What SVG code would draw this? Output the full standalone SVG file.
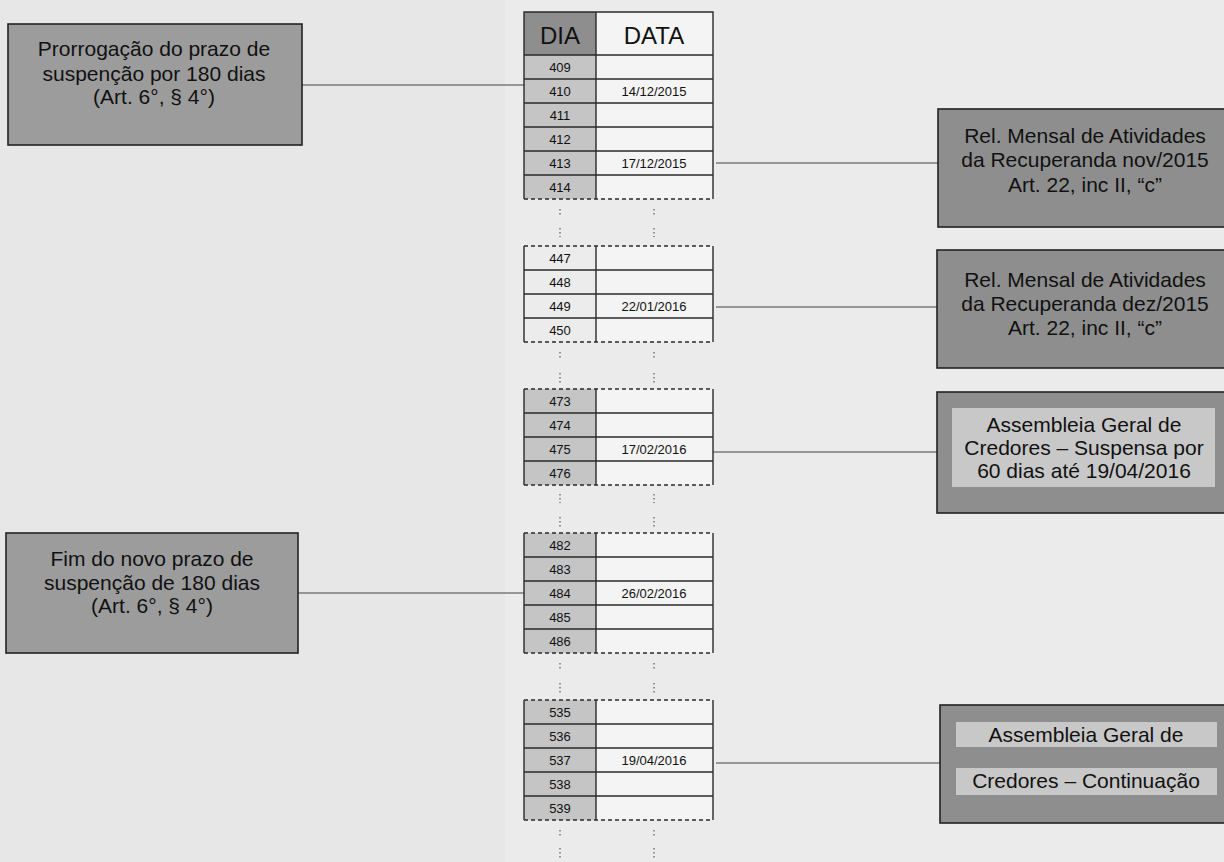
<svg xmlns="http://www.w3.org/2000/svg" width="1224" height="862" viewBox="0 0 1224 862">
<style>
.bg{fill:#ebebeb}
.box{stroke:#222;stroke-width:1.6}
.lbox{fill:#9c9c9c}
.rbox{fill:#8e8e8e}
.inner{fill:#c8c8c8;stroke:none}
.t{font-family:"Liberation Sans",Arial,sans-serif;fill:#111;text-anchor:middle}
.bt{font-size:21px}
.hd{font-size:24px}
.num{font-size:13px}
.dia{fill:#c5c5c5}
.diaw{fill:#ececec}
.dat{fill:#f4f4f4}
.hdd{fill:#8e8e8e}
.grid{stroke:#2a2a2a;stroke-width:1.4;fill:none}
.dash{stroke:#2a2a2a;stroke-width:1.4;stroke-dasharray:4 3;fill:none}
.dots{stroke:#777;stroke-width:1.5;stroke-dasharray:1.5 2.5;fill:none}
.conn{stroke:#7a7a7a;stroke-width:1.6;fill:none}
</style>
<rect class="bg" x="0" y="0" width="1224" height="862"/>
<rect x="0" y="0" width="505" height="862" fill="#e7e7e7"/>

<g id="connectors">
<line class="conn" x1="302" y1="85" x2="524" y2="85"/>
<line class="conn" x1="716" y1="163" x2="938" y2="163"/>
<line class="conn" x1="716" y1="307" x2="937" y2="307"/>
<line class="conn" x1="711" y1="452" x2="937" y2="452"/>
<line class="conn" x1="298" y1="593" x2="524" y2="593"/>
<line class="conn" x1="716" y1="763" x2="940" y2="763"/>
</g>

<g id="node-prorrogacao">
<rect class="box lbox" x="8" y="24" width="294" height="121"/>
<text class="t bt" x="154" y="56">Prorrogação do prazo de</text>
<text class="t bt" x="154" y="81">suspenção por 180 dias</text>
<text class="t bt" x="154" y="104">(Art. 6°, § 4°)</text>
</g>

<g id="node-fim-prazo">
<rect class="box lbox" x="6" y="533" width="292" height="120"/>
<text class="t bt" x="152" y="566">Fim do novo prazo de</text>
<text class="t bt" x="152" y="590">suspenção de 180 dias</text>
<text class="t bt" x="152" y="613">(Art. 6°, § 4°)</text>
</g>

<g id="node-rel-nov">
<rect class="box rbox" x="938" y="109" width="290" height="118"/>
<text class="t bt" x="1085" y="143">Rel. Mensal de Atividades</text>
<text class="t bt" x="1085" y="167">da Recuperanda nov/2015</text>
<text class="t bt" x="1085" y="192">Art. 22, inc II, “c”</text>
</g>

<g id="node-rel-dez">
<rect class="box rbox" x="937" y="250" width="291" height="118"/>
<text class="t bt" x="1085" y="287">Rel. Mensal de Atividades</text>
<text class="t bt" x="1085" y="311">da Recuperanda dez/2015</text>
<text class="t bt" x="1085" y="335">Art. 22, inc II, “c”</text>
</g>

<g id="node-agc-suspensa">
<rect class="box rbox" x="937" y="392" width="291" height="121"/>
<rect class="inner" x="952" y="408" width="263" height="79"/>
<text class="t bt" x="1084" y="432">Assembleia Geral de</text>
<text class="t bt" x="1084" y="455">Credores – Suspensa por</text>
<text class="t bt" x="1084" y="478">60 dias até 19/04/2016</text>
</g>

<g id="node-agc-continuacao">
<rect class="box rbox" x="940" y="705" width="288" height="118"/>
<rect class="inner" x="956" y="722" width="261" height="25"/>
<rect class="inner" x="956" y="768" width="261" height="27"/>
<text class="t bt" x="1086" y="742">Assembleia Geral de</text>
<text class="t bt" x="1086" y="788">Credores – Continuação</text>
</g>

<g id="node-tabela">
<g id="tabela-s1">
<rect class="hdd" x="524" y="12" width="72" height="43"/>
<rect class="dat" x="596" y="12" width="117" height="43"/>
<rect class="dia" x="524" y="55" width="72" height="144"/>
<rect class="dat" x="596" y="55" width="117" height="144"/>
<path class="grid" d="M524,199 V12 H713 V199 M596,12 V199 M524,55 H713 M524,79 H713 M524,103 H713 M524,127 H713 M524,151 H713 M524,175 H713"/>
<line class="dash" x1="524" y1="199" x2="713" y2="199"/>
<text class="t hd" x="560" y="44">DIA</text>
<text class="t hd" x="654" y="44">DATA</text>
<text class="t num" x="560" y="72">409</text>
<text class="t num" x="560" y="96">410</text>
<text class="t num" x="654" y="96">14/12/2015</text>
<text class="t num" x="560" y="120">411</text>
<text class="t num" x="560" y="144">412</text>
<text class="t num" x="560" y="168">413</text>
<text class="t num" x="654" y="168">17/12/2015</text>
<text class="t num" x="560" y="192">414</text>
</g>
<g id="tabela-s2">
<rect class="diaw" x="524" y="246" width="72" height="96"/>
<rect class="dat" x="596" y="246" width="117" height="96"/>
<path class="grid" d="M524,246 V342 M713,246 V342 M596,246 V342 M524,270 H713 M524,294 H713 M524,318 H713"/>
<path class="dash" d="M524,246 H713 M524,342 H713"/>
<text class="t num" x="560" y="263">447</text>
<text class="t num" x="560" y="287">448</text>
<text class="t num" x="560" y="311">449</text>
<text class="t num" x="654" y="311">22/01/2016</text>
<text class="t num" x="560" y="335">450</text>
</g>
<g id="tabela-s3">
<rect class="dia" x="524" y="389" width="72" height="96"/>
<rect class="dat" x="596" y="389" width="117" height="96"/>
<path class="grid" d="M524,389 V485 M713,389 V485 M596,389 V485 M524,413 H713 M524,437 H713 M524,461 H713"/>
<path class="dash" d="M524,389 H713 M524,485 H713"/>
<text class="t num" x="560" y="406">473</text>
<text class="t num" x="560" y="430">474</text>
<text class="t num" x="560" y="454">475</text>
<text class="t num" x="654" y="454">17/02/2016</text>
<text class="t num" x="560" y="478">476</text>
</g>
<g id="tabela-s4">
<rect class="dia" x="524" y="533" width="72" height="120"/>
<rect class="dat" x="596" y="533" width="117" height="120"/>
<path class="grid" d="M524,533 V653 M713,533 V653 M596,533 V653 M524,557 H713 M524,581 H713 M524,605 H713 M524,629 H713"/>
<path class="dash" d="M524,533 H713 M524,653 H713"/>
<text class="t num" x="560" y="550">482</text>
<text class="t num" x="560" y="574">483</text>
<text class="t num" x="560" y="598">484</text>
<text class="t num" x="654" y="598">26/02/2016</text>
<text class="t num" x="560" y="622">485</text>
<text class="t num" x="560" y="646">486</text>
</g>
<g id="tabela-s5">
<rect class="dia" x="524" y="700" width="72" height="120"/>
<rect class="dat" x="596" y="700" width="117" height="120"/>
<path class="grid" d="M524,700 V820 M713,700 V820 M596,700 V820 M524,724 H713 M524,748 H713 M524,772 H713 M524,796 H713"/>
<path class="dash" d="M524,700 H713 M524,820 H713"/>
<text class="t num" x="560" y="717">535</text>
<text class="t num" x="560" y="741">536</text>
<text class="t num" x="560" y="765">537</text>
<text class="t num" x="654" y="765">19/04/2016</text>
<text class="t num" x="560" y="789">538</text>
<text class="t num" x="560" y="813">539</text>
</g>
<g id="tabela-reticencias">
<path class="dots" d="M560,209 V217 M560,228 V237 M654,209 V217 M654,228 V237
M560,352 V359 M560,373 V383 M654,352 V359 M654,373 V383
M560,494 V503 M560,517 V527 M654,494 V503 M654,517 V527
M560,663 V670 M560,683 V693 M654,663 V670 M654,683 V693
M560,830 V837 M560,848 V858 M654,830 V837 M654,848 V858"/>
</g>
</g>
</svg>
